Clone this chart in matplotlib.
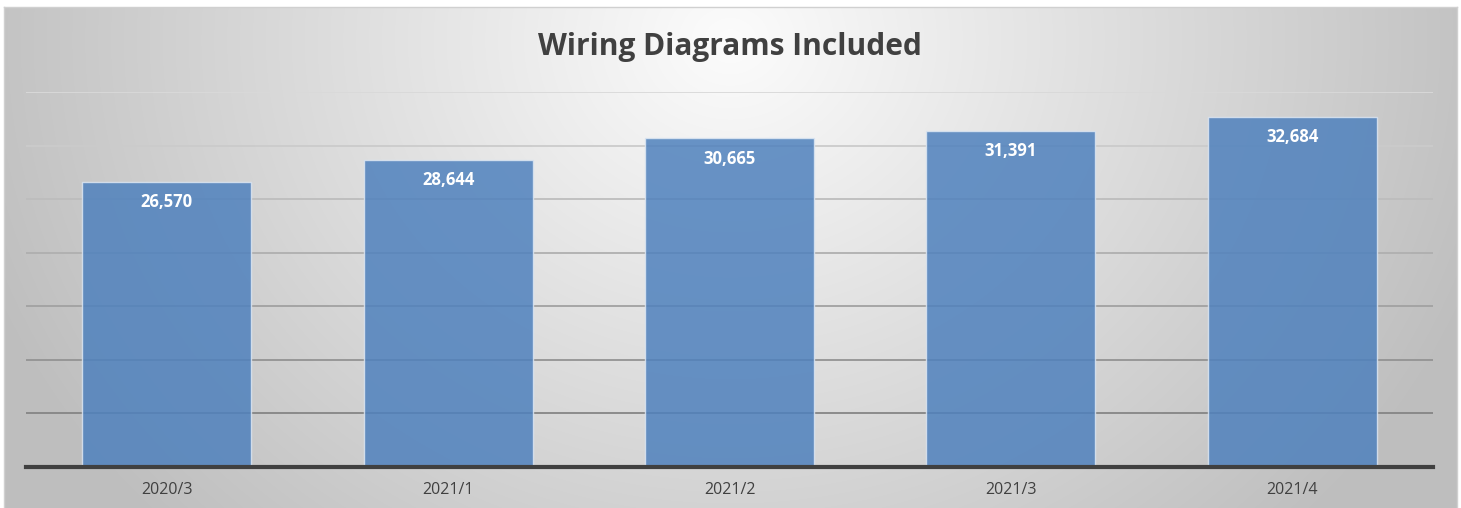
import numpy as np
import matplotlib
matplotlib.use("Agg")
import matplotlib.pyplot as plt

categories = ["2020/3", "2021/1", "2021/2", "2021/3", "2021/4"]
values = [26570, 28644, 30665, 31391, 32684]
y_max = 35000
y_step = 5000

W, H = 1461, 508
fig = plt.figure(figsize=(W / 100, H / 100), dpi=100)
fig.patch.set_facecolor("white")

# chart area with radial gray gradient
x0, y0, x1, y1 = 4, 7, 1457, 508
bg = fig.add_axes([x0 / W, 1 - y1 / H, (x1 - x0) / W, (y1 - y0) / H])
gx, gy = np.meshgrid(np.arange(x0, x1), np.arange(y0, y1))
r = np.sqrt(((gx - 730) / 800.0) ** 2 + ((gy - 40) / 700.0) ** 2)
shade = np.clip(252 - 62 * r, 190, 252) / 255.0
bg.imshow(np.dstack([shade] * 3), aspect="auto", interpolation="bilinear")
bg.set_axis_off()
edge = "#d0d0d0"
fig.add_artist(plt.Line2D([x0 / W, x1 / W], [1 - y0 / H, 1 - y0 / H], color=edge, lw=1))
fig.add_artist(plt.Line2D([x0 / W, x0 / W], [0, 1 - y0 / H], color=edge, lw=1))
fig.add_artist(plt.Line2D([x1 / W, x1 / W], [0, 1 - y0 / H], color=edge, lw=1))

# plot area
left, right, top, bottom = 26, 1433, 92, 466.5
ax = fig.add_axes([left / W, 1 - bottom / H, (right - left) / W, (bottom - top) / H])
ax.patch.set_alpha(0)

x = np.arange(len(categories))
ticks = np.arange(y_step, y_max + 1, y_step)
n = len(ticks)
for i, t in enumerate(ticks):
    frac = i / (n - 1)
    c = 0.52 + 0.33 * frac
    ax.axhline(t, color=(c, c, c), lw=1.3, zorder=1)

ax.bar(x, values, width=0.6, color="#4f81bd", alpha=0.85,
       edgecolor="#dce6f2", linewidth=1, zorder=2)

for xi, v in zip(x, values):
    ax.annotate(f"{v:,}", (xi, v), xytext=(0, -14.5), textcoords="offset points",
                ha="center", va="center", color="white", fontsize=12,
                fontweight="bold", family="Open Sans", zorder=4)

ax.set_xlim(-0.5, len(categories) - 0.5)
ax.set_ylim(0, y_max)
ax.set_yticks([])
ax.set_xticks(x)
ax.set_xticklabels(categories, family="Open Sans", fontsize=11.5, color="#404040")
ax.tick_params(axis="x", length=0, pad=11)
for s in ["top", "left", "right"]:
    ax.spines[s].set_visible(False)
ax.spines["bottom"].set_color("#404040")
ax.spines["bottom"].set_linewidth(3)
ax.spines["bottom"].set_zorder(5)

fig.text(730 / W, 1 - 47 / H, "Wiring Diagrams Included", ha="center", va="center",
         fontsize=21.5, fontweight="bold", family="Open Sans", color="#404040")

fig.savefig("out.png", dpi=100)
